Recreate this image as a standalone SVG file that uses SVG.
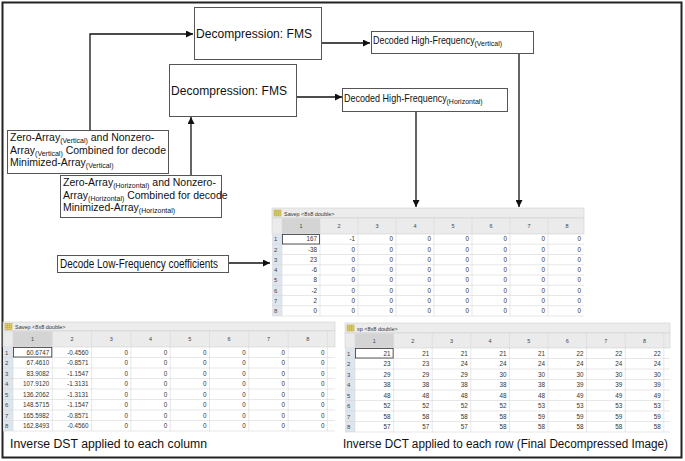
<svg xmlns="http://www.w3.org/2000/svg" width="685" height="461" viewBox="0 0 685 461">
<style>
.box{fill:#fff;stroke:#555;stroke-width:1}
.lbl{font-family:"Liberation Sans",Arial,sans-serif;fill:#111}
.sub{font-size:7px}
.conn{stroke:#111;stroke-width:1.3;fill:none;marker-end:url(#ah)}
.tb{fill:#ececec;stroke:#d0d0d0;stroke-width:0.6}
.hd{fill:#ebebeb;stroke:#d0d0d0;stroke-width:0.6}
.hds{fill:#d4d4d4}
.rl{fill:#dfe5ec}
.grid{stroke:#d6d6d6;stroke-width:0.6;fill:none}
.ttl{font-family:"Liberation Sans",Arial,sans-serif;font-size:5.5px;fill:#333}
.hn{font-family:"Liberation Sans",Arial,sans-serif;font-size:5.5px;fill:#444;text-anchor:middle}
.rn{font-family:"Liberation Sans",Arial,sans-serif;font-size:6px;fill:#444}
.cv{font-family:"Liberation Sans",Arial,sans-serif;font-size:6.3px;fill:#333;text-anchor:end}
.sel{fill:none;stroke:#333;stroke-width:0.8}
.cap{font-family:"Liberation Sans",Arial,sans-serif;font-size:12px;fill:#111}
</style>
<defs>
<marker id="ah" viewBox="0 0 10 10" refX="10" refY="5" markerWidth="8" markerHeight="7" markerUnits="userSpaceOnUse" orient="auto"><path d="M0,0 L10,5 L0,10 z" fill="#111"/></marker>
<g id="icon"><rect x="0" y="0" width="7" height="6" fill="#f3d36b" stroke="#b89a2a" stroke-width="0.5"/><path d="M0,2 H7 M0,4 H7 M2.3,0 V6 M4.6,0 V6" stroke="#7aa24a" stroke-width="0.4"/></g>
</defs>
<rect x="0" y="0" width="685" height="461" fill="#fff"/>
<rect x="2.5" y="2.5" width="679" height="455" fill="none" stroke="#222" stroke-width="2"/>

<g id="fms-vertical">
<rect class="box" x="194.5" y="7.5" width="127" height="52"/>
<text class="lbl" x="196" y="38" font-size="12.5" textLength="116" lengthAdjust="spacingAndGlyphs">Decompression: FMS</text>
</g>
<g id="fms-horizontal">
<rect class="box" x="169.5" y="64.5" width="127" height="52"/>
<text class="lbl" x="171" y="95" font-size="12.5" textLength="116" lengthAdjust="spacingAndGlyphs">Decompression: FMS</text>
</g>
<g id="hf-vertical">
<rect class="box" x="371.5" y="31.5" width="162" height="22"/>
<text class="lbl" transform="translate(373,44) scale(0.85,1)" font-size="10.5">Decoded High-Frequency</text>
<text class="lbl sub" x="474.5" y="46">(Vertical)</text>
</g>
<g id="hf-horizontal">
<rect class="box" x="342.5" y="88.5" width="165" height="23"/>
<text class="lbl" transform="translate(344,102) scale(0.86,1)" font-size="10.5">Decoded High-Frequency</text>
<text class="lbl sub" x="446.5" y="104">(Horizontal)</text>
</g>
<g id="za-vertical">
<rect class="box" x="7.5" y="130.5" width="161" height="43"/>
<text class="lbl" x="10" y="141" font-size="10.5">Zero-Array<tspan class="sub" dy="2">(Vertical)</tspan><tspan dy="-2"> and Nonzero-</tspan></text>
<text class="lbl" x="10" y="153.5" font-size="10.5">Array<tspan class="sub" dy="2">(Vertical)</tspan><tspan dy="-2"> Combined for decode</tspan></text>
<text class="lbl" x="10" y="166" font-size="10.5">Minimized-Array<tspan class="sub" dy="2">(Vertical)</tspan></text>
</g>
<g id="za-horizontal">
<rect class="box" x="60.5" y="175.5" width="161" height="42"/>
<text class="lbl" x="63" y="186" font-size="10.5">Zero-Array<tspan class="sub" dy="2">(Horizontal)</tspan><tspan dy="-2"> and Nonzero-</tspan></text>
<text class="lbl" x="63" y="198.5" font-size="10.5">Array<tspan class="sub" dy="2">(Horizontal)</tspan><tspan dy="-2"> Combined for decode</tspan></text>
<text class="lbl" x="63" y="211" font-size="10.5">Minimized-Array<tspan class="sub" dy="2">(Horizontal)</tspan></text>
</g>
<g id="low-frequency">
<rect class="box" x="57.5" y="255.5" width="171" height="17"/>
<text class="lbl" x="60" y="268" font-size="12" textLength="158" lengthAdjust="spacingAndGlyphs">Decode Low-Frequency coefficients</text>
</g>

<g id="connectors">
<path class="conn" d="M90,130 V34 H193"/>
<path class="conn" d="M191,175 V117"/>
<path class="conn" d="M322,43 H370"/>
<path class="conn" d="M297,97 H342"/>
<path class="conn" d="M519,54 V207"/>
<path class="conn" d="M416,112 V207"/>
<path class="conn" d="M229,263 H270"/>
</g>

<!-- middle table -->
<g id="table-savep-mid" transform="translate(272,208)">
<rect class="tb" x="0" y="0" width="312" height="10"/>
<use href="#icon" x="2" y="2"/>
<text class="ttl" x="12" y="7.5">Savep &lt;8x8 double&gt;</text>
<rect class="hd" x="0" y="10" width="312" height="16"/>
<rect class="hds" x="10" y="10.3" width="38" height="15.4"/>
<rect class="rl" x="0" y="26" width="10" height="82"/>
<path class="grid" d="M0,36.25H312M0,46.5H312M0,56.75H312M0,67H312M0,77.25H312M0,87.5H312M0,97.75H312M0,108H312M10,10V108M48,10V108M86,10V108M124,10V108M162,10V108M200,10V108M238,10V108M276,10V108"/>
<text class="hn" y="20"><tspan x="29">1</tspan><tspan x="67">2</tspan><tspan x="105">3</tspan><tspan x="143">4</tspan><tspan x="181">5</tspan><tspan x="219">6</tspan><tspan x="257">7</tspan><tspan x="295">8</tspan></text>
<text class="rn"><tspan x="2" y="33.4">1</tspan><tspan x="2" y="43.65">2</tspan><tspan x="2" y="53.9">3</tspan><tspan x="2" y="64.15">4</tspan><tspan x="2" y="74.4">5</tspan><tspan x="2" y="84.65">6</tspan><tspan x="2" y="94.9">7</tspan><tspan x="2" y="105.15">8</tspan></text>
<rect class="sel" x="10.5" y="26.5" width="37" height="9.5"/>
<text class="cv" y="33.4"><tspan x="45">167</tspan><tspan x="83">-1</tspan><tspan x="121">0</tspan><tspan x="159">0</tspan><tspan x="197">0</tspan><tspan x="235">0</tspan><tspan x="273">0</tspan><tspan x="309">0</tspan></text>
<text class="cv" y="43.65"><tspan x="45">-38</tspan><tspan x="83">0</tspan><tspan x="121">0</tspan><tspan x="159">0</tspan><tspan x="197">0</tspan><tspan x="235">0</tspan><tspan x="273">0</tspan><tspan x="309">0</tspan></text>
<text class="cv" y="53.9"><tspan x="45">23</tspan><tspan x="83">0</tspan><tspan x="121">0</tspan><tspan x="159">0</tspan><tspan x="197">0</tspan><tspan x="235">0</tspan><tspan x="273">0</tspan><tspan x="309">0</tspan></text>
<text class="cv" y="64.15"><tspan x="45">-6</tspan><tspan x="83">0</tspan><tspan x="121">0</tspan><tspan x="159">0</tspan><tspan x="197">0</tspan><tspan x="235">0</tspan><tspan x="273">0</tspan><tspan x="309">0</tspan></text>
<text class="cv" y="74.4"><tspan x="45">8</tspan><tspan x="83">0</tspan><tspan x="121">0</tspan><tspan x="159">0</tspan><tspan x="197">0</tspan><tspan x="235">0</tspan><tspan x="273">0</tspan><tspan x="309">0</tspan></text>
<text class="cv" y="84.65"><tspan x="45">-2</tspan><tspan x="83">0</tspan><tspan x="121">0</tspan><tspan x="159">0</tspan><tspan x="197">0</tspan><tspan x="235">0</tspan><tspan x="273">0</tspan><tspan x="309">0</tspan></text>
<text class="cv" y="94.9"><tspan x="45">2</tspan><tspan x="83">0</tspan><tspan x="121">0</tspan><tspan x="159">0</tspan><tspan x="197">0</tspan><tspan x="235">0</tspan><tspan x="273">0</tspan><tspan x="309">0</tspan></text>
<text class="cv" y="105.15"><tspan x="45">0</tspan><tspan x="83">0</tspan><tspan x="121">0</tspan><tspan x="159">0</tspan><tspan x="197">0</tspan><tspan x="235">0</tspan><tspan x="273">0</tspan><tspan x="309">0</tspan></text>
</g>

<!-- bottom-left table -->
<g id="table-savep-dst" transform="translate(3,322)">
<rect class="tb" x="0" y="0" width="332" height="9"/>
<use href="#icon" x="2" y="1.5"/>
<text class="ttl" x="12" y="7">Savep &lt;8x8 double&gt;</text>
<rect class="hd" x="0" y="9" width="332" height="16"/>
<rect class="hds" x="10" y="9.3" width="39.3" height="15.4"/>
<rect class="rl" x="0" y="25" width="10" height="84"/>
<path class="grid" d="M0,35.5H332M0,46H332M0,56.5H332M0,67H332M0,77.5H332M0,88H332M0,98.5H332M0,109H332M10,9V109M49.3,9V109M88.6,9V109M127.9,9V109M167.2,9V109M206.5,9V109M245.8,9V109M285.1,9V109M324.4,9V109"/>
<text class="hn" y="19"><tspan x="29.65">1</tspan><tspan x="68.95">2</tspan><tspan x="108.25">3</tspan><tspan x="147.55">4</tspan><tspan x="186.85">5</tspan><tspan x="226.15">6</tspan><tspan x="265.45">7</tspan><tspan x="304.75">8</tspan></text>
<text class="rn"><tspan x="2" y="32.6">1</tspan><tspan x="2" y="43.1">2</tspan><tspan x="2" y="53.6">3</tspan><tspan x="2" y="64.1">4</tspan><tspan x="2" y="74.6">5</tspan><tspan x="2" y="85.1">6</tspan><tspan x="2" y="95.6">7</tspan><tspan x="2" y="106.1">8</tspan></text>
<rect class="sel" x="10.5" y="25.5" width="38.3" height="9.5"/>
<text class="cv" y="32.6"><tspan x="46.3">60.6747</tspan><tspan x="85.6">-0.4560</tspan><tspan x="124.9">0</tspan><tspan x="164.2">0</tspan><tspan x="203.5">0</tspan><tspan x="242.8">0</tspan><tspan x="282.1">0</tspan><tspan x="321.4">0</tspan></text>
<text class="cv" y="43.1"><tspan x="46.3">67.4610</tspan><tspan x="85.6">-0.8571</tspan><tspan x="124.9">0</tspan><tspan x="164.2">0</tspan><tspan x="203.5">0</tspan><tspan x="242.8">0</tspan><tspan x="282.1">0</tspan><tspan x="321.4">0</tspan></text>
<text class="cv" y="53.6"><tspan x="46.3">83.9082</tspan><tspan x="85.6">-1.1547</tspan><tspan x="124.9">0</tspan><tspan x="164.2">0</tspan><tspan x="203.5">0</tspan><tspan x="242.8">0</tspan><tspan x="282.1">0</tspan><tspan x="321.4">0</tspan></text>
<text class="cv" y="64.1"><tspan x="46.3">107.9120</tspan><tspan x="85.6">-1.3131</tspan><tspan x="124.9">0</tspan><tspan x="164.2">0</tspan><tspan x="203.5">0</tspan><tspan x="242.8">0</tspan><tspan x="282.1">0</tspan><tspan x="321.4">0</tspan></text>
<text class="cv" y="74.6"><tspan x="46.3">136.2062</tspan><tspan x="85.6">-1.3131</tspan><tspan x="124.9">0</tspan><tspan x="164.2">0</tspan><tspan x="203.5">0</tspan><tspan x="242.8">0</tspan><tspan x="282.1">0</tspan><tspan x="321.4">0</tspan></text>
<text class="cv" y="85.1"><tspan x="46.3">148.5715</tspan><tspan x="85.6">-1.1547</tspan><tspan x="124.9">0</tspan><tspan x="164.2">0</tspan><tspan x="203.5">0</tspan><tspan x="242.8">0</tspan><tspan x="282.1">0</tspan><tspan x="321.4">0</tspan></text>
<text class="cv" y="95.6"><tspan x="46.3">165.5982</tspan><tspan x="85.6">-0.8571</tspan><tspan x="124.9">0</tspan><tspan x="164.2">0</tspan><tspan x="203.5">0</tspan><tspan x="242.8">0</tspan><tspan x="282.1">0</tspan><tspan x="321.4">0</tspan></text>
<text class="cv" y="106.1"><tspan x="46.3">162.8493</tspan><tspan x="85.6">-0.4560</tspan><tspan x="124.9">0</tspan><tspan x="164.2">0</tspan><tspan x="203.5">0</tspan><tspan x="242.8">0</tspan><tspan x="282.1">0</tspan><tspan x="321.4">0</tspan></text>
</g>
<text class="cap" x="10" y="448" textLength="197" lengthAdjust="spacingAndGlyphs">Inverse DST applied to each column</text>

<!-- bottom-right table -->
<g id="table-xp-dct" transform="translate(345,323)">
<rect class="tb" x="0" y="0" width="325" height="10"/>
<use href="#icon" x="2" y="2"/>
<text class="ttl" x="12" y="7.5">xp &lt;8x8 double&gt;</text>
<rect class="hd" x="0" y="10" width="325" height="15"/>
<rect class="hds" x="10" y="10.3" width="38.6" height="14.4"/>
<rect class="rl" x="0" y="25" width="10" height="84"/>
<path class="grid" d="M0,35.5H325M0,46H325M0,56.5H325M0,67H325M0,77.5H325M0,88H325M0,98.5H325M0,109H325M10,10V109M48.6,10V109M87.2,10V109M125.8,10V109M164.4,10V109M203,10V109M241.6,10V109M280.2,10V109M318.8,10V109"/>
<text class="hn" y="19.5"><tspan x="29.3">1</tspan><tspan x="67.9">2</tspan><tspan x="106.5">3</tspan><tspan x="145.1">4</tspan><tspan x="183.7">5</tspan><tspan x="222.3">6</tspan><tspan x="260.9">7</tspan><tspan x="299.5">8</tspan></text>
<text class="rn"><tspan x="2" y="32.6">1</tspan><tspan x="2" y="43.1">2</tspan><tspan x="2" y="53.6">3</tspan><tspan x="2" y="64.1">4</tspan><tspan x="2" y="74.6">5</tspan><tspan x="2" y="85.1">6</tspan><tspan x="2" y="95.6">7</tspan><tspan x="2" y="106.1">8</tspan></text>
<rect class="sel" x="10.5" y="25.5" width="37.6" height="9.5"/>
<text class="cv" y="32.6"><tspan x="45.6">21</tspan><tspan x="84.2">21</tspan><tspan x="122.8">21</tspan><tspan x="161.4">21</tspan><tspan x="200">21</tspan><tspan x="238.6">22</tspan><tspan x="277.2">22</tspan><tspan x="315.8">22</tspan></text>
<text class="cv" y="43.1"><tspan x="45.6">23</tspan><tspan x="84.2">23</tspan><tspan x="122.8">24</tspan><tspan x="161.4">24</tspan><tspan x="200">24</tspan><tspan x="238.6">24</tspan><tspan x="277.2">24</tspan><tspan x="315.8">24</tspan></text>
<text class="cv" y="53.6"><tspan x="45.6">29</tspan><tspan x="84.2">29</tspan><tspan x="122.8">29</tspan><tspan x="161.4">30</tspan><tspan x="200">30</tspan><tspan x="238.6">30</tspan><tspan x="277.2">30</tspan><tspan x="315.8">30</tspan></text>
<text class="cv" y="64.1"><tspan x="45.6">38</tspan><tspan x="84.2">38</tspan><tspan x="122.8">38</tspan><tspan x="161.4">38</tspan><tspan x="200">38</tspan><tspan x="238.6">39</tspan><tspan x="277.2">39</tspan><tspan x="315.8">39</tspan></text>
<text class="cv" y="74.6"><tspan x="45.6">48</tspan><tspan x="84.2">48</tspan><tspan x="122.8">48</tspan><tspan x="161.4">48</tspan><tspan x="200">48</tspan><tspan x="238.6">49</tspan><tspan x="277.2">49</tspan><tspan x="315.8">49</tspan></text>
<text class="cv" y="85.1"><tspan x="45.6">52</tspan><tspan x="84.2">52</tspan><tspan x="122.8">52</tspan><tspan x="161.4">52</tspan><tspan x="200">53</tspan><tspan x="238.6">53</tspan><tspan x="277.2">53</tspan><tspan x="315.8">53</tspan></text>
<text class="cv" y="95.6"><tspan x="45.6">58</tspan><tspan x="84.2">58</tspan><tspan x="122.8">58</tspan><tspan x="161.4">58</tspan><tspan x="200">59</tspan><tspan x="238.6">59</tspan><tspan x="277.2">59</tspan><tspan x="315.8">59</tspan></text>
<text class="cv" y="106.1"><tspan x="45.6">57</tspan><tspan x="84.2">57</tspan><tspan x="122.8">57</tspan><tspan x="161.4">58</tspan><tspan x="200">58</tspan><tspan x="238.6">58</tspan><tspan x="277.2">58</tspan><tspan x="315.8">58</tspan></text>
</g>
<text class="cap" x="343" y="448" textLength="325" lengthAdjust="spacingAndGlyphs">Inverse DCT applied to each row (Final Decompressed Image)</text>
</svg>
